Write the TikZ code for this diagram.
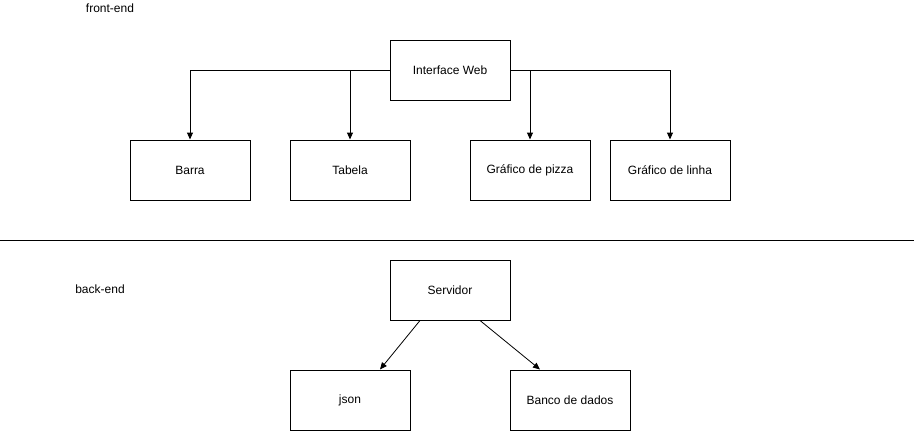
\documentclass[tikz,border=0pt]{standalone}
\usepackage{fontspec}
\setmainfont{Liberation Sans}
\usetikzlibrary{arrows.meta,calc}
\begin{document}
\begin{tikzpicture}[x=1pt,y=-1pt,
  box/.style={draw,line width=1pt,minimum width=120pt,minimum height=60pt,inner sep=0pt,font=\fontsize{12}{14}\selectfont},
  lbl/.style={font=\fontsize{12}{14}\selectfont,inner sep=0pt},
  conn/.style={line width=1pt,-{Triangle[length=7pt,width=6pt]}}]
\useasboundingbox (0,0) rectangle (916,431);
\node[lbl] (fe) at (110,8) {front-end};
\node[lbl] (be) at (100,289) {back-end};
\node[box] (iw) at (450,70) {Interface Web};
\node[box] (barra) at (190,170) {Barra};
\node[box] (tab) at (350,170) {Tabela};
\node[box] (pizza) at (530,170) {Gráfico de pizza};
\node[box] (linha) at (670,170) {Gráfico de linha};
\node[box] (srv) at (450,290) {Servidor};
\node[box] (json) at (350,400) {json};
\node[box] (bd) at (570,400) {Banco de dados};
\coordinate (l1) at (0,240);
\coordinate (l2) at (914,240);
\draw[line width=1pt] (l1) -- (l2);
\draw[conn] (iw.west) -| (barra.north);
\draw[conn] (iw.west) -| (tab.north);
\draw[conn] (iw.east) -| (pizza.north);
\draw[conn] (iw.east) -| (linha.north);
\draw[conn,line width=0.8pt] ($(srv.south)+(-30,0)$) -- ($(json.north)+(30,0)$);
\draw[conn,line width=0.8pt] ($(srv.south)+(30,0)$) -- ($(bd.north)+(-30,0)$);
\end{tikzpicture}
\end{document}
